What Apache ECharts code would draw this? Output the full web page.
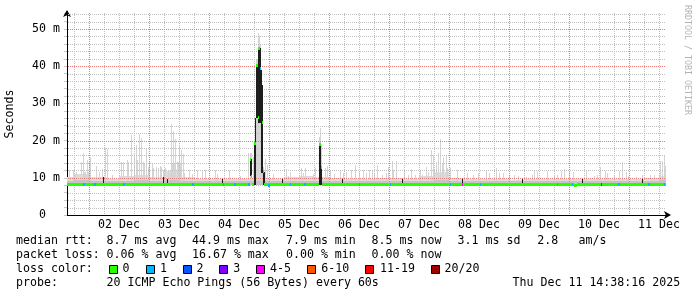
<!DOCTYPE html>
<html><head><meta charset="utf-8">
<script src="https://cdn.jsdelivr.net/npm/echarts@6/dist/echarts.min.js"></script>
<style>html,body{margin:0;padding:0;background:#fff}#c{width:697px;height:297px}</style>
</head><body><div id="c"></div>
<script>
// x values: hours since 01 Dec 00:00 ; y values: milliseconds
const dayLabels = ['02 Dec','03 Dec','04 Dec','05 Dec','06 Dec','07 Dec','08 Dec','09 Dec','10 Dec','11 Dec'];
const dayLabelHours = [36,60,84,108,132,156,180,204,228,252];
const midnightHours = [24,48,72,96,120,144,168,192,216,240];
const yTickValues = [0,10,20,30,40,50];
const yTickLabels = ['0  ','10 m','20 m','30 m','40 m','50 m'];

// loss colours (legend)
const lossLabels = ['0','1','2','3','4-5','6-10','11-19','20/20'];
const lossColors = ['#26ff00','#00b8ff','#0059ff','#7e00ff','#ff00ff','#ff5500','#ff0000','#a10000'];

// light smoke spikes (max ping per step)
const spikeHours = [16.0,17.7,18.8,20.7,21.7,22.0,22.5,23.1,23.6,24.0,24.3,26.7,28.1,29.0,30.3,31.3,33.2,36.8,37.7,39.1,39.7,40.8,41.9,42.0,42.8,43.3,44.1,44.7,44.9,45.5,46.0,46.8,47.6,48.1,49.1,49.2,49.7,50.7,51.6,52.4,52.9,53.7,54.4,55.5,56.4,56.9,57.4,57.7,58.2,58.4,59.1,59.2,59.5,59.9,60.4,60.8,61.5,62.0,64.1,65.2,67.3,69.1,70.5,74.5,75.1,80.1,84.4,87.7,
  88.4,88.8,89.6,90.8,91.2,91.6,92.0,92.4,92.8,93.2,93.8,94.3,
  95.3,97.5,102.7,103.7,104.4,106.4,108.8,109.7,110.4,113.5,114.4,116.0,116.4,116.8,118.4,119.2,120.4,122.0,124.4,125.6,
  126.8,128.8,130.4,132.1,133.7,134.8,136.0,137.3,138.1,139.3,141.1,142.8,143.7,145.1,145.7,146.7,150.1,151.7,152.7,154.4,156.4,157.1,158.8,159.7,160.7,161.7,162.7,163.5,164.4,165.1,165.7,166.7,167.3,168.4,171.3,175.1,177.5,179.7,182.8,184.1,186.8,188.1,
  189.5,192.1,194.1,195.7,198.8,201.3,202.0,203.3,207.3,210.1,211.1,212.8,214.0,216.0,217.7,222.8,226.1,227.1,228.4,230.4,231.1,234.0,236.0,237.3,238.7,239.7,242.8,245.1,248.4,250.0,252.4,253.2,254.0,254.4];
const spikeTops = [12.1,12.1,11.5,14.3,16.6,11.6,11.6,14.7,11.6,14.5,15.7,13.2,11.6,12.3,17.9,17.7,10.8,14.3,14.3,14.7,14.3,21.5,16.7,15.1,18.8,14.7,21.8,20.7,20.4,14.3,13.9,17.7,12.9,14.3,12.9,13.7,12.5,12.9,12.5,13.2,12.9,12.0,12.5,12.0,12.0,24.5,14.0,22.6,14.0,20.4,14.3,14.0,14.3,18.8,14.0,17.5,16.3,11.3,12.0,10.9,12.0,12.0,12.0,12.2,11.1,12.0,10.5,16.7,
  16.7,16.7,15.7,42.0,42.0,49.0,48.0,46.0,38.0,30.0,13.0,15.0,
  13.4,11.0,12.3,10.5,11.5,10.3,12.5,11.3,12.5,11.0,12.6,21.0,23.4,19.0,12.6,13.2,12.0,11.0,12.1,11.3,
  11.6,12.1,13.4,11.6,12.1,11.2,12.1,12.1,11.2,13.4,10.7,11.2,12.9,14.6,12.1,14.4,11.6,10.8,12.4,10.8,12.1,10.8,13.0,11.6,17.5,16.1,14.3,16.8,20.3,13.7,15.7,15.8,12.6,12.6,12.2,11.2,10.8,11.2,12.1,11.2,12.6,11.2,
  11.4,10.8,10.8,10.5,10.3,10.8,12.1,11.7,11.9,10.5,10.8,11.9,12.3,11.6,11.6,11.9,10.5,10.8,13.0,11.9,11.2,10.5,11.9,14.3,11.6,10.5,10.3,10.8,10.8,10.8,14.6,14.6,15.9,13.3];
const spikeFloor = 8.5;

// continuous smoke band, 6 h blocks (outer and inner layers)
const bandStart = [12,18,24,30,36,42,48,54,60,66,72,78,84,90,96,102,108,114,120,126,132,138,144,150,156,162,168,174,180,186,192,198,204,210,216,222,228,234,240,246,252];
const bandTops  = [10.1,11.0,10.2,9.8,10.5,10.8,10.2,11.8,10.3,9.8,9.6,9.6,9.8,10.0,9.6,10.2,10.5,10.3,10.0,9.8,9.8,9.9,10.0,9.8,10.5,11.5,10.0,9.6,9.8,9.6,9.5,9.8,9.6,9.8,9.6,9.8,9.8,9.8,9.8,10.0,10.5];
const bandInner = [9.2,9.4,9.2,9.1,9.2,9.3,9.2,9.5,9.2,9.1,9.1,9.1,9.1,9.2,9.1,9.2,9.2,9.2,9.1,9.1,9.1,9.1,9.2,9.1,9.2,9.4,9.2,9.1,9.1,9.1,9.1,9.1,9.1,9.1,9.1,9.1,9.1,9.1,9.1,9.2,9.3];
const bandFloor = 8.0;
const bandStep = 6;

// dense (dark) smoke
const darkHours = [29.7,53.5,55.3,77.3,88.4,88.8,90.0,90.4,90.8,91.2,91.6,92.0,92.4,92.8,93.2,93.6,94.0,101.1,116.0,116.4,116.8,125.1,149.3,173.1,192.8,197.1,218.4,221.1,245.1];
const darkLo    = [8.3,8.3,8.3,8.3,10.5,10.5,8.0,8.0,26.0,26.0,24.7,24.7,24.7,11.3,11.3,8.0,8.0,8.1,8.1,8.1,8.1,8.1,8.1,8.1,7.8,8.0,7.7,8.1,8.1];
const darkHi    = [10.3,10.2,9.8,9.8,15.1,15.1,19.3,26.0,40.3,40.3,44.8,44.8,44.8,39.0,35.0,11.6,11.6,9.6,19.3,19.3,13.0,9.6,9.6,9.8,8.6,9.8,8.3,9.6,9.6];
const smokeStep = 0.4;

// median rtt segments (start h, end h, ms, loss bucket)
const medStart = [15.2,88.4,88.8,89.2,90.0,90.8,91.6,91.6,92.4,93.0,93.6,94.0,99.0,116.0,116.8,117.2,218.0,219.2,
  21.7,26.1,37.8,65.4,77.5,82.1,87.7,95.6,104.4,110.1,132.0,144.4,168.4,173.1,180.4,211.1,217.2,228.8,235.7,247.7,254.0];
const medEnd   = [88.4,88.8,89.2,90.0,90.8,91.6,92.4,92.0,92.8,93.4,94.0,99.0,116.0,116.8,117.2,218.0,219.2,254.8,
  22.3,26.7,38.4,66.0,78.1,82.7,88.3,96.2,105.0,110.7,132.6,145.0,169.0,173.7,181.0,211.7,217.8,229.4,236.3,248.3,254.6];
const medVal   = [8.3,15.0,10.4,8.2,19.3,40.3,44.8,26.3,39.4,24.8,11.6,8.1,8.3,18.9,12.8,8.3,7.8,8.3,
  8.3,8.3,8.3,8.3,8.3,8.3,8.3,7.9,8.3,8.3,8.3,8.3,8.3,8.3,8.3,8.3,8.3,8.3,8.3,8.3,8.3];
const medLoss  = [0,0,0,0,0,0,0,0,1,0,0,0,0,0,0,0,0,0,
  1,1,1,1,1,1,1,1,1,1,1,1,1,4,1,1,1,3,1,1,1];

// grid positions
const minorX = []; for (let h = 18; h <= 252; h += 6) if (h % 24) minorX.push(h);
const minorY = []; for (let v = 2; v <= 54; v += 2) if (v % 10) minorY.push(v);
const majorY = [10,20,30,40,50];

const FONT = 'DejaVu Sans Mono';
const chart = echarts.init(document.getElementById('c'));

function clip(r, cs){ return echarts.graphic.clipRectByRect(r, {x:cs.x, y:cs.y, width:cs.width, height:cs.height}); }

function rangeRect(fill){
  return function(params, api){
    const a = api.coord([api.value(0), api.value(2)]);
    const b = api.coord([api.value(0), api.value(1)]);
    const w = Math.max(1, Math.round(api.size([smokeStep, 0])[0]));
    const x = Math.round(a[0]);
    const y = Math.round(a[1]);
    const shape = clip({x:x, y:y, width:w, height:Math.max(1, Math.round(b[1]) - y)}, params.coordSys);
    return shape && {type:'rect', shape:shape, style:{fill:fill}};
  };
}

function blockRect(fill){
  return function(params, api){
    const a = api.coord([api.value(0), api.value(3)]);
    const b = api.coord([api.value(1), api.value(2)]);
    const x0 = Math.round(a[0]), y0 = Math.round(a[1]);
    const shape = clip({x:x0, y:y0, width:Math.round(b[0])-x0, height:Math.round(b[1])-y0}, params.coordSys);
    return shape && {type:'rect', shape:shape, style:{fill:fill}};
  };
}

// dotted grid lines drawn as 1px dots (1 on, 1 off)
function vDots(fill){
  return function(params, api){
    const cs = params.coordSys;
    const x = Math.round(api.coord([api.value(0), 0])[0]);
    let d = '';
    for (let y = Math.round(cs.y); y < cs.y + cs.height; y += 2) d += 'M' + x + ' ' + y + 'h1v1h-1z';
    return {type:'path', shape:{pathData:d}, style:{fill:fill, stroke:null}};
  };
}
function hDots(fill){
  return function(params, api){
    const cs = params.coordSys;
    const y = Math.round(api.coord([15.2, api.value(1)])[1]);
    let d = '';
    for (let x = Math.round(cs.x) + 1; x < cs.x + cs.width; x += 2) d += 'M' + x + ' ' + y + 'h1v1h-1z';
    return {type:'path', shape:{pathData:d}, style:{fill:fill, stroke:null}};
  };
}

const GRID_MINOR = '#c0c0c0', GRID_MAJOR = '#e47c7c';

const option = {
  animation:false,
  backgroundColor:'#ffffff',
  grid:{left:67, top:13, width:599, height:202, containLabel:false, outerBoundsMode:'none'},
  xAxis:{type:'value', min:15.2, max:254.8,
    axisLine:{show:true, lineStyle:{color:'#000', width:1}, symbol:['none','arrow'], symbolSize:[6,7], symbolOffset:[0,5]},
    axisTick:{show:false}, splitLine:{show:false},
    axisLabel:{customValues:dayLabelHours, formatter:v => dayLabels[dayLabelHours.indexOf(v)],
      margin:4, fontFamily:FONT, fontSize:11.6, color:'#000'}},
  yAxis:{type:'value', min:0, max:54.3, interval:2,
    axisLine:{show:true, onZero:false, lineStyle:{color:'#000', width:1}, symbol:['none','arrow'], symbolSize:[6,7], symbolOffset:[0,3]},
    axisTick:{show:true, length:3, lineStyle:{color:'#c8c8c8'}}, splitLine:{show:false},
    axisLabel:{customValues:yTickValues, formatter:v => yTickLabels[yTickValues.indexOf(v)],
      margin:7, fontFamily:FONT, fontSize:11.6, color:'#000'},
    name:'Seconds', nameLocation:'middle', nameGap:51, nameRotate:90,
    nameTextStyle:{fontFamily:FONT, fontSize:11.6, color:'#000'}},
  series:[
    {type:'custom', name:'band outer', z:2, silent:true,
      data: bandStart.map((s,i)=>[s, s+bandStep, bandFloor, bandTops[i]]),
      renderItem: blockRect('#dddddd')},
    {type:'custom', name:'smoke', z:3, silent:true,
      data: spikeHours.map((h,i)=>[h, spikeFloor, spikeTops[i]]),
      renderItem: rangeRect('#d4d4d4')},
    {type:'custom', name:'band inner', z:3, silent:true,
      data: bandStart.map((s,i)=>[s, s+bandStep, bandFloor, bandInner[i]]),
      renderItem: blockRect('#c4c4c4')},
    {type:'custom', name:'grid minor x', z:4, silent:true, data: minorX.map(h=>[h, 0]), renderItem: vDots(GRID_MINOR)},
    {type:'custom', name:'grid minor y', z:4, silent:true, data: minorY.map(v=>[15.2, v]), renderItem: hDots(GRID_MINOR)},
    {type:'custom', name:'grid major x', z:5, silent:true, data: midnightHours.map(h=>[h, 0]), renderItem: vDots(GRID_MAJOR)},
    {type:'custom', name:'grid major y', z:5, silent:true, data: majorY.map(v=>[15.2, v]), renderItem: hDots(GRID_MAJOR)},
    {type:'custom', name:'dense smoke', z:6, silent:true,
      data: darkHours.map((h,i)=>[h, darkLo[i], darkHi[i]]),
      renderItem: rangeRect('#1e1e1e')},
    {type:'custom', name:'median rtt', z:7, silent:true,
      data: medStart.map((s,i)=>[s, medEnd[i], medVal[i], medLoss[i]]),
      renderItem:(params, api)=>{
        const a = api.coord([api.value(0), api.value(2)]);
        const b = api.coord([api.value(1), api.value(2)]);
        const x = Math.round(a[0]);
        const shape = clip({x:x, y:Math.round(a[1] - 1.5), width:Math.max(1, Math.round(b[0]) - x), height:3}, params.coordSys);
        return shape && {type:'rect', shape:shape, style:{fill:lossColors[api.value(3)]}};
      }}
  ],
  graphic: buildLegend()
};

function buildLegend(){
  const g = [];
  const font = '11.6px "DejaVu Sans Mono"';
  const t = (x, y, s) => g.push({type:'text', x:x, y:y, silent:true,
    style:{text:s, font:font, fill:'#000', textAlign:'left', textVerticalAlign:'middle', align:'left', verticalAlign:'middle'}});
  const r1 = 241, r2 = 255, r3 = 269, r4 = 283;
  t(16, r1, 'median rtt:'); t(106.6, r1, '8.7 ms avg'); t(192, r1, '44.9 ms max'); t(286, r1, '7.9 ms min');
  t(371.6, r1, '8.5 ms now'); t(457.6, r1, '3.1 ms sd'); t(537.3, r1, '2.8'); t(578.6, r1, 'am/s');
  t(16, r2, 'packet loss:'); t(106.6, r2, '0.06 % avg'); t(192, r2, '16.67 % max'); t(286, r2, '0.00 % min'); t(371.6, r2, '0.00 % now');
  t(16, r3, 'loss color:');
  const swX = [109,146,183,219,256,307,365,431];
  const lbX = [122.6,160,196.6,233.3,270,321.3,380,444.6];
  lossLabels.forEach((l,i)=>{
    g.push({type:'rect', silent:true, shape:{x:swX[i]+0.5, y:265.5, width:8, height:8}, style:{fill:lossColors[i], stroke:'#000', lineWidth:1}});
    t(lbX[i], r3, l);
  });
  t(16, r4, 'probe:'); t(106.6, r4, '20 ICMP Echo Pings (56 Bytes) every 60s'); t(512.6, r4, 'Thu Dec 11 14:38:16 2025');
  g.push({type:'text', x:687, y:5, rotation:-Math.PI/2, silent:true,
    style:{text:'RRDTOOL / TOBI OETIKER', font:'8.3px "DejaVu Sans Mono"', fill:'#b4b4b4', textAlign:'left', textVerticalAlign:'middle', align:'left', verticalAlign:'middle'}});
  return g;
}

chart.setOption(option);
</script>
</body></html>
